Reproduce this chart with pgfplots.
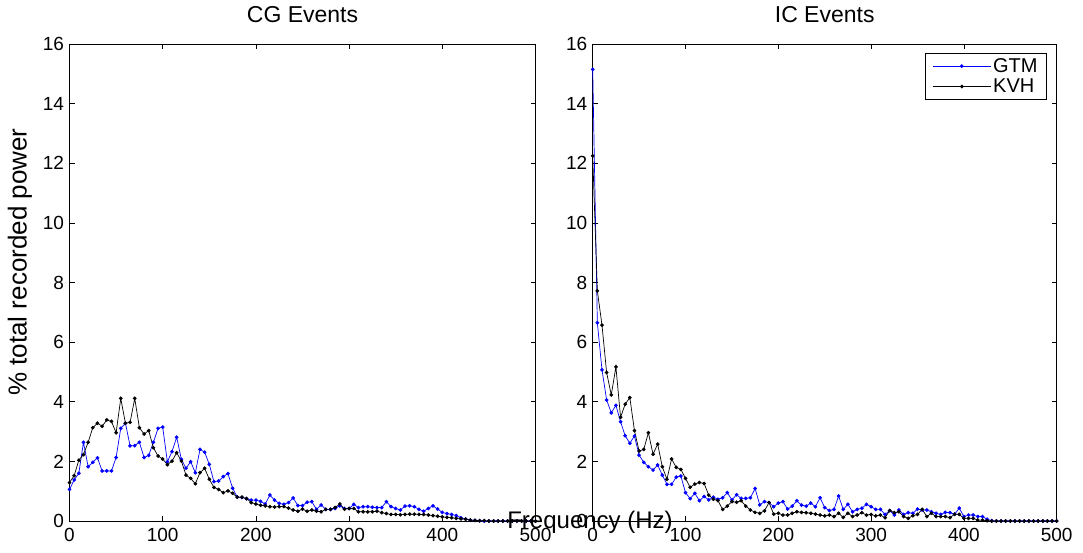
\documentclass[border=0pt]{standalone}
\usepackage{fontspec}
\setmainfont{Liberation Sans}
\usepackage{pgfplots}
\pgfplotsset{compat=1.18}
\usepackage{pgfplotstable}
\pgfplotstableread{
f cgg cgk icg ick
0 1.06 1.29 15.15 12.25
5 1.38 1.52 6.65 7.72
10 1.60 2.04 5.07 6.57
15 2.64 2.23 4.06 4.98
20 1.82 2.64 3.63 4.23
25 1.97 3.13 3.88 5.17
30 2.12 3.28 3.33 3.48
35 1.68 3.18 2.86 3.92
40 1.68 3.39 2.61 4.14
45 1.68 3.34 2.85 3.03
50 2.13 2.96 2.21 2.35
55 3.11 4.11 1.97 2.40
60 3.28 3.28 1.82 2.96
65 2.52 3.31 1.71 2.24
70 2.53 4.11 1.88 2.58
75 2.64 3.13 1.54 1.82
80 2.13 2.92 1.23 1.40
85 2.20 3.03 1.23 2.08
90 2.64 2.46 1.47 1.80
95 3.11 2.18 1.51 1.73
100 3.15 2.08 0.95 1.43
105 1.99 1.89 0.75 1.13
110 2.33 2.01 0.93 1.24
115 2.81 2.29 0.68 1.29
120 2.07 2.01 0.82 1.26
125 1.77 1.54 0.71 0.87
130 1.99 1.43 0.80 0.73
135 1.62 1.25 0.73 0.68
140 2.40 1.62 0.78 0.39
145 2.31 1.77 0.95 0.50
150 1.90 1.40 0.71 0.65
155 1.32 1.13 0.88 0.63
160 1.34 1.06 0.76 0.68
165 1.49 0.95 0.76 0.50
170 1.59 1.01 0.78 0.37
175 1.10 0.93 1.09 0.29
180 0.80 0.80 0.54 0.26
185 0.79 0.80 0.65 0.34
190 0.75 0.75 0.62 0.62
195 0.70 0.62 0.48 0.23
200 0.70 0.57 0.60 0.26
205 0.66 0.53 0.65 0.20
210 0.57 0.51 0.40 0.20
215 0.87 0.48 0.50 0.26
220 0.70 0.47 0.68 0.31
225 0.59 0.48 0.53 0.29
230 0.56 0.49 0.50 0.28
235 0.62 0.43 0.60 0.26
240 0.77 0.37 0.48 0.23
245 0.52 0.33 0.78 0.20
250 0.52 0.40 0.45 0.17
255 0.63 0.33 0.35 0.20
260 0.65 0.37 0.39 0.15
265 0.39 0.33 0.84 0.26
270 0.54 0.31 0.39 0.12
275 0.39 0.39 0.56 0.26
280 0.39 0.39 0.31 0.15
285 0.42 0.45 0.39 0.20
290 0.51 0.57 0.43 0.28
295 0.42 0.40 0.56 0.20
300 0.42 0.42 0.48 0.22
305 0.56 0.42 0.39 0.17
310 0.45 0.31 0.39 0.20
315 0.48 0.31 0.22 0.11
320 0.48 0.31 0.35 0.35
325 0.46 0.31 0.20 0.28
330 0.45 0.33 0.37 0.31
335 0.45 0.28 0.22 0.15
340 0.65 0.25 0.28 0.09
345 0.48 0.22 0.26 0.18
350 0.42 0.22 0.40 0.22
355 0.37 0.21 0.37 0.39
360 0.50 0.22 0.37 0.15
365 0.51 0.23 0.31 0.26
370 0.48 0.23 0.26 0.15
375 0.39 0.22 0.22 0.15
380 0.33 0.22 0.29 0.15
385 0.42 0.20 0.28 0.11
390 0.51 0.18 0.23 0.23
395 0.40 0.16 0.43 0.22
400 0.29 0.14 0.15 0.09
405 0.25 0.12 0.20 0.09
410 0.22 0.11 0.20 0.09
415 0.18 0.09 0.15 0.03
420 0.11 0.07 0.15 0.03
425 0.07 0.06 0.06 0.01
430 0.03 0.03 0.01 0
435 0.02 0.02 0 0
440 0.01 0.01 0 0
445 0 0.01 0 0
450 0 0 0 0
455 0 0 0 0
460 0 0 0 0
465 0 0 0 0
470 0 0 0 0
475 0 0 0 0
480 0 0 0 0
485 0 0 0 0
490 0 0 0 0
495 0 0 0 0
500 0 0 0 0
}\data

\pgfplotsset{
  mypanel/.style={
    scale only axis,
    anchor=south west,
    width=465pt, height=477pt,
    xmin=0, xmax=500, ymin=0, ymax=16,
    xtick={0,100,...,500}, ytick={0,2,...,16},
    minor tick num=0,
    tick align=inside,
    major tick length=5pt,
    axis line style={line width=0.7pt},
    every tick/.style={black, line width=0.7pt},
    tick label style={font=\fontsize{19}{22}\selectfont},
    xticklabel style={yshift=-4pt},
    yticklabel style={xshift=-2pt},
    /pgf/number format/assume math mode=true,
    title style={font=\fontsize{23}{26}\selectfont, anchor=base, at={(axis description cs:0.5,1)}, yshift=16pt},
    clip=false,
  },
  gtm/.style={blue, line width=0.7pt, mark=*, mark size=1.5pt, mark options={solid}},
  kvh/.style={black, line width=0.7pt, mark=*, mark size=1.5pt, mark options={solid}},
}

\begin{document}
\begin{tikzpicture}[x=1pt,y=1pt]
\path[use as bounding box] (0,0) rectangle (1083,-552);

\begin{axis}[mypanel, at={(69.5pt,-521pt)}, width=466pt, title={CG Events}]
\addplot[gtm] table[x=f, y=cgg] {\data};
\addplot[kvh] table[x=f, y=cgk] {\data};
\end{axis}

\begin{axis}[mypanel, at={(592.7pt,-521pt)}, width=464pt, title={IC Events},
  legend style={at={(0.979,0.981)}, anchor=north east, draw=black, line width=0.7pt,
    font=\fontsize{20}{24}\selectfont, inner xsep=7pt, inner ysep=3pt, row sep=1pt},
  legend cell align=left,
  legend image code/.code={\draw[mark repeat=2, mark phase=2, #1] plot coordinates {(0pt,0pt) (29pt,0pt) (58pt,0pt)};}]
\addplot[gtm] table[x=f, y=icg] {\data};
\addlegendentry{GTM}
\addplot[kvh] table[x=f, y=ick] {\data};
\addlegendentry{KVH}
\end{axis}

\node[rotate=90, font=\fontsize{26}{29}\selectfont] at (20,-262) {\% total recorded power};
\node[font=\fontsize{24}{27}\selectfont] at (590,-522) {Frequency (Hz)};
\end{tikzpicture}
\end{document}
